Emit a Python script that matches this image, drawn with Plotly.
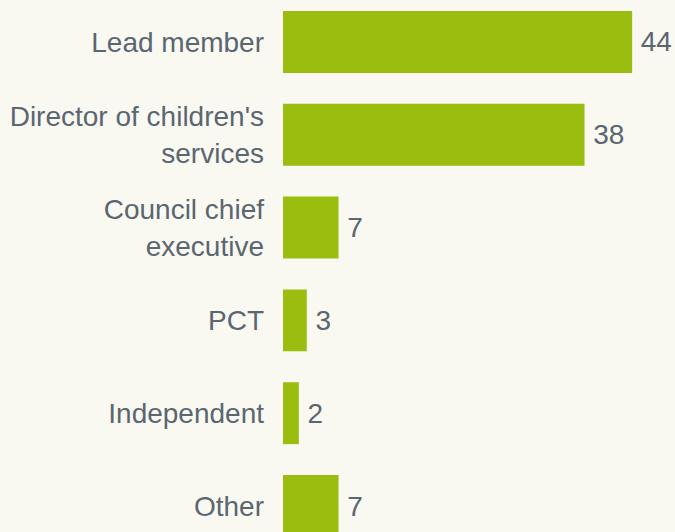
import plotly.graph_objects as go

# data
categories = ["Lead member", "Director of children's<br>services", "Council chief<br>executive",
              "PCT", "Independent", "Other"]
values = [44, 38, 7, 3, 2, 7]

bg = "#f9f9f2"
green = "#9abd0f"
grey = "#5b6670"

fig = go.Figure()
fig.add_trace(go.Bar(
    x=values,
    y=categories,
    orientation="h",
    marker=dict(color=green, line=dict(width=0)),
    width=0.667,
    text=[f"\u2009{v}" for v in values],
    textposition="outside",
    textfont=dict(size=28, color=grey),
    cliponaxis=False,
    hoverinfo="skip",
))

fig.update_layout(
    width=675, height=532,
    margin=dict(l=283, r=0, t=0, b=0),
    paper_bgcolor=bg, plot_bgcolor=bg,
    font=dict(family="Liberation Sans, Arial, sans-serif", size=28, color=grey),
    showlegend=False,
    xaxis=dict(range=[0, 49.4], visible=False, fixedrange=True),
    yaxis=dict(
        categoryorder="array", categoryarray=categories,
        range=[5.28, -0.452],
        showgrid=False, zeroline=False, showline=False,
        ticks="", ticklabelstandoff=18,
        tickfont=dict(size=28, color=grey),
    ),
)

# page body without default margin so the chart fills the window
fig.write_html("out.html", config={"displayModeBar": False},
               post_script="document.body.style.margin='0';"
               "document.body.style.background='" + bg + "';")
